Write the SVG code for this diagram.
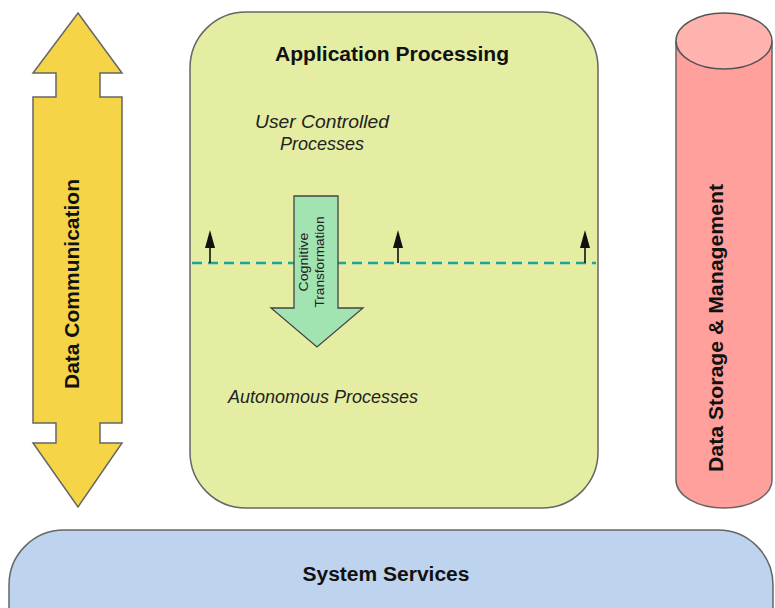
<svg xmlns="http://www.w3.org/2000/svg" width="775" height="608" viewBox="0 0 775 608">
<defs>
<style>
.lbl{font-family:"Liberation Sans",Arial,sans-serif;font-weight:bold;fill:#111;}
.it{font-family:"Liberation Sans",Arial,sans-serif;font-style:italic;fill:#222;font-size:18px;}
.sm{font-family:"Liberation Sans",Arial,sans-serif;font-size:13px;fill:#222;}
</style>
<marker id="up" viewBox="0 0 10 18" refX="5" refY="18" markerWidth="10" markerHeight="18" orient="0" markerUnits="userSpaceOnUse">
<path d="M5,0 L10,18 L0,18 Z" fill="#111"/>
</marker>
</defs>
<rect width="775" height="608" fill="#ffffff"/>

<g id="data-communication">
<path d="M78,13 L122,73 L100,73 L100,97 L122,97 L122,423 L100,423 L100,443 L122,443 L78,507 L33,443 L56,443 L56,423 L33,423 L33,97 L56,97 L56,73 L33,73 Z" fill="#f5d547" stroke="#666" stroke-width="1.5"/>
<text class="lbl" font-size="20" transform="translate(79,284) rotate(-90)" text-anchor="middle" textLength="210" lengthAdjust="spacingAndGlyphs">Data Communication</text>
</g>

<g id="application-processing">
<rect x="190" y="12" width="408" height="496" rx="56" ry="56" fill="#e4eda2" stroke="#666" stroke-width="1.5"/>
<text class="lbl" font-size="20.5" x="392" y="61" text-anchor="middle" textLength="234" lengthAdjust="spacingAndGlyphs">Application Processing</text>
<text class="it" x="322" y="128" text-anchor="middle" textLength="134" lengthAdjust="spacingAndGlyphs">User Controlled</text>
<text class="it" x="322" y="150" text-anchor="middle" textLength="84" lengthAdjust="spacingAndGlyphs">Processes</text>
<text class="it" x="323" y="403" text-anchor="middle" textLength="190" lengthAdjust="spacingAndGlyphs">Autonomous Processes</text>
</g>

<g id="connectors">
<line x1="192" y1="263" x2="596" y2="263" stroke="#1fa39a" stroke-width="2.5" stroke-dasharray="10,6"/>
<line x1="210" y1="263" x2="210" y2="248" stroke="#111" stroke-width="1.6" marker-end="url(#up)"/>
<line x1="398" y1="263" x2="398" y2="248" stroke="#111" stroke-width="1.6" marker-end="url(#up)"/>
<line x1="585" y1="263" x2="585" y2="248" stroke="#111" stroke-width="1.6" marker-end="url(#up)"/>
</g>

<g id="cognitive-transformation">
<path d="M294,196 L338,196 L338,308 L363,308 L317,347 L271,308 L294,308 Z" fill="#a2e3b2" stroke="#444" stroke-width="1.3"/>
<text class="sm" transform="translate(308,262) rotate(-90)" text-anchor="middle" textLength="59" lengthAdjust="spacingAndGlyphs">Cognitive</text>
<text class="sm" transform="translate(324,262) rotate(-90)" text-anchor="middle" textLength="91" lengthAdjust="spacingAndGlyphs">Transformation</text>
</g>

<g id="data-storage">
<path d="M676,41 L676,480 A48,28 0 0 0 772,480 L772,41" fill="#ffa09c" stroke="#666" stroke-width="1.5"/>
<ellipse cx="724" cy="41" rx="48" ry="28" fill="#ffb3af" stroke="#555" stroke-width="1.5"/>
<text class="lbl" font-size="20" transform="translate(723,328) rotate(-90)" text-anchor="middle" textLength="288" lengthAdjust="spacingAndGlyphs">Data Storage &amp; Management</text>
</g>

<g id="system-services">
<rect x="9" y="530" width="764" height="140" rx="55" ry="55" fill="#bdd3ee" stroke="#666" stroke-width="1.5"/>
<text class="lbl" font-size="20" x="386" y="581" text-anchor="middle" textLength="167" lengthAdjust="spacingAndGlyphs">System Services</text>
</g>
</svg>
